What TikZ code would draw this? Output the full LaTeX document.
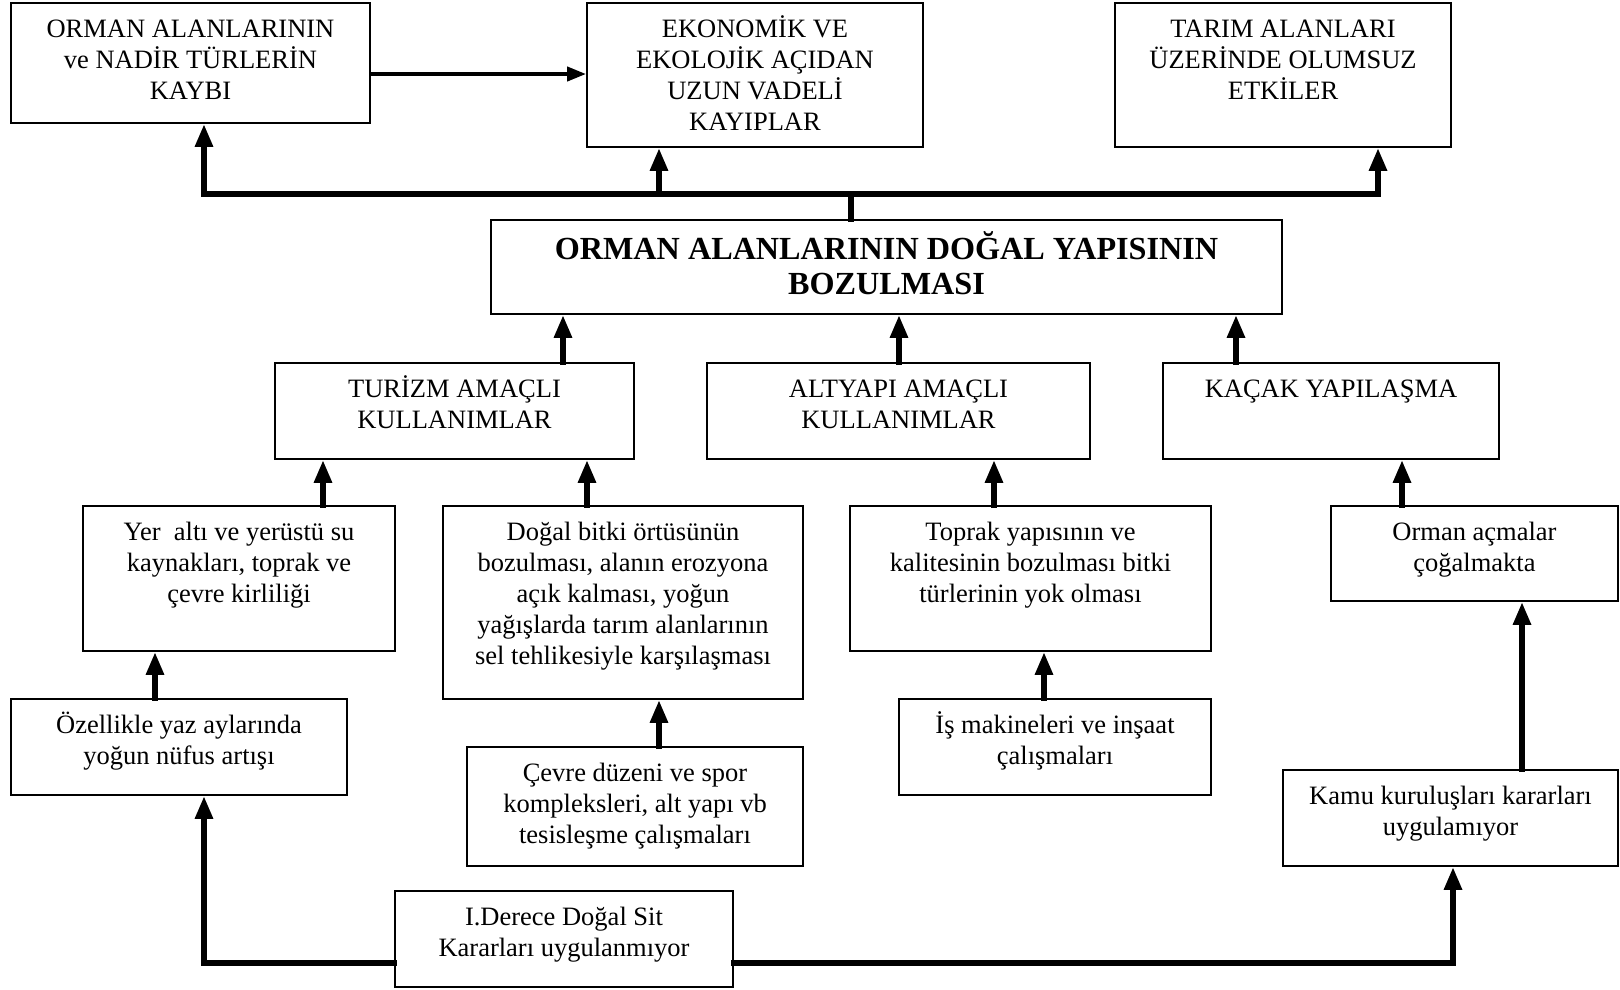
\documentclass[tikz,border=0pt]{standalone}
\usepackage{fontspec}
\setmainfont{Liberation Serif}
\usetikzlibrary{arrows.meta}
\tikzset{
  box/.style={draw, line width=1.8pt, inner sep=0pt},
  txt/.style={align=center, inner sep=0pt, font=\fontsize{26.5}{31}\selectfont},
  hd/.style={align=center, inner sep=0pt, font=\fontsize{32.2}{35}\selectfont\bfseries},
  link/.style={line width=6pt, line cap=rect},
  arr/.style={line width=6pt, line cap=rect, -{Triangle[length=23pt,width=17pt]}},
  sidearr/.style={line width=4pt, -{Triangle[length=19pt,width=14pt]}},
}
% framed box: name, x1, y1, x2, y2
\newcommand{\fbx}[5]{%
  \node[box, minimum width={#4pt-#2pt}, minimum height={#5pt-#3pt}] (#1) at ({(#2+#4)/2},{(#3+#5)/2}) {};}
% text hung from the top edge of a box
\newcommand{\btxt}[2]{%
  \node[txt, anchor=north] (#1-t) at ([yshift=-9pt]#1.north) {\rule{0pt}{26pt}#2};}
\begin{document}
\begin{tikzpicture}[x=1pt,y=-1pt]
\useasboundingbox (0,0) rectangle (1620,989);

% top row: consequences
\fbx{loss}{11}{3}{370}{123}
\btxt{loss}{ORMAN ALANLARININ\\ve NADİR TÜRLERİN\\KAYBI}
\fbx{econ}{587}{3}{923}{147}
\btxt{econ}{EKONOMİK VE\\EKOLOJİK AÇIDAN\\UZUN VADELİ\\KAYIPLAR}
\fbx{farm}{1115}{3}{1451}{147}
\btxt{farm}{TARIM ALANLARI\\ÜZERİNDE OLUMSUZ\\ETKİLER}

% central problem
\fbx{main}{491}{220}{1282}{314}
\node[hd, anchor=north] (main-t) at ([yshift=-10pt]main.north) {\rule{0pt}{30pt}ORMAN ALANLARININ DOĞAL YAPISININ\\BOZULMASI};

% second row: kinds of use
\fbx{tur}{275}{363}{634}{459}
\btxt{tur}{TURİZM AMAÇLI\\KULLANIMLAR}
\fbx{alt}{707}{363}{1090}{459}
\btxt{alt}{ALTYAPI AMAÇLI\\KULLANIMLAR}
\fbx{kac}{1163}{363}{1499}{459}
\btxt{kac}{KAÇAK YAPILAŞMA}

% third row: effects
\fbx{yer}{83}{506}{395}{651}
\btxt{yer}{Yer\ \ altı ve yerüstü su\\kaynakları, toprak ve\\çevre kirliliği}
\fbx{bitki}{443}{506}{803}{699}
\btxt{bitki}{Doğal bitki örtüsünün\\bozulması, alanın erozyona\\açık kalması, yoğun\\yağışlarda tarım alanlarının\\sel tehlikesiyle karşılaşması}
\fbx{toprak}{850}{506}{1211}{651}
\btxt{toprak}{Toprak yapısının ve\\kalitesinin bozulması bitki\\türlerinin yok olması}
\fbx{acma}{1331}{506}{1618}{601}
\btxt{acma}{Orman açmalar\\çoğalmakta}

% fourth row: causes
\fbx{ozel}{11}{699}{347}{795}
\btxt{ozel}{Özellikle yaz aylarında\\yoğun nüfus artışı}
\fbx{cevre}{467}{747}{803}{866}
\btxt{cevre}{Çevre düzeni ve spor\\kompleksleri, alt yapı vb\\tesisleşme çalışmaları}
\fbx{is}{899}{699}{1211}{795}
\btxt{is}{İş makineleri ve inşaat\\çalışmaları}
\fbx{kamu}{1283}{770}{1618}{866}
\btxt{kamu}{Kamu kuruluşları kararları\\uygulamıyor}

% root cause
\fbx{der}{395}{891}{733}{987}
\btxt{der}{I.Derece Doğal Sit\\Kararları uygulanmıyor}

% connector positions
\coordinate (hub) at (851,194);
\coordinate (busL) at (204,194);
\coordinate (busM) at (659,194);
\coordinate (busR) at (1378,194);
\coordinate (side) at (0,74);
\coordinate (x563) at (563,0);
\coordinate (x899) at (899,0);
\coordinate (x1236) at (1236,0);
\coordinate (x323) at (323,0);
\coordinate (x587) at (587,0);
\coordinate (x994) at (994,0);
\coordinate (x1402) at (1402,0);
\coordinate (x155) at (155,0);
\coordinate (x659) at (659,0);
\coordinate (x1044) at (1044,0);
\coordinate (x1522) at (1522,0);
\coordinate (botL) at (204,963);
\coordinate (botR) at (1453,963);

% top bus
\draw[link] (main.north -| hub) -- (hub);
\draw[link] (busL) -- (busR);
\draw[arr] (busL) -- (loss.south -| busL);
\draw[arr] (busM) -- (econ.south -| busM);
\draw[arr] (busR) -- (farm.south -| busR);
\draw[sidearr] (loss.east |- side) -- (econ.west |- side);

% second row into the central box
\draw[arr] (tur.north -| x563) -- (main.south -| x563);
\draw[arr] (alt.north -| x899) -- (main.south -| x899);
\draw[arr] (kac.north -| x1236) -- (main.south -| x1236);

% third row into the second row
\draw[arr] (yer.north -| x323) -- (tur.south -| x323);
\draw[arr] (bitki.north -| x587) -- (tur.south -| x587);
\draw[arr] (toprak.north -| x994) -- (alt.south -| x994);
\draw[arr] (acma.north -| x1402) -- (kac.south -| x1402);

% fourth row into the third row
\draw[arr] (ozel.north -| x155) -- (yer.south -| x155);
\draw[arr] (cevre.north -| x659) -- (bitki.south -| x659);
\draw[arr] (is.north -| x1044) -- (toprak.south -| x1044);
\draw[arr] (kamu.north -| x1522) -- (acma.south -| x1522);

% root cause branches
\draw[arr, line join=miter] (der.west |- botL) -| (ozel.south -| botL);
\draw[arr, line join=miter] (der.east |- botR) -| (kamu.south -| botR);
\end{tikzpicture}
\end{document}
